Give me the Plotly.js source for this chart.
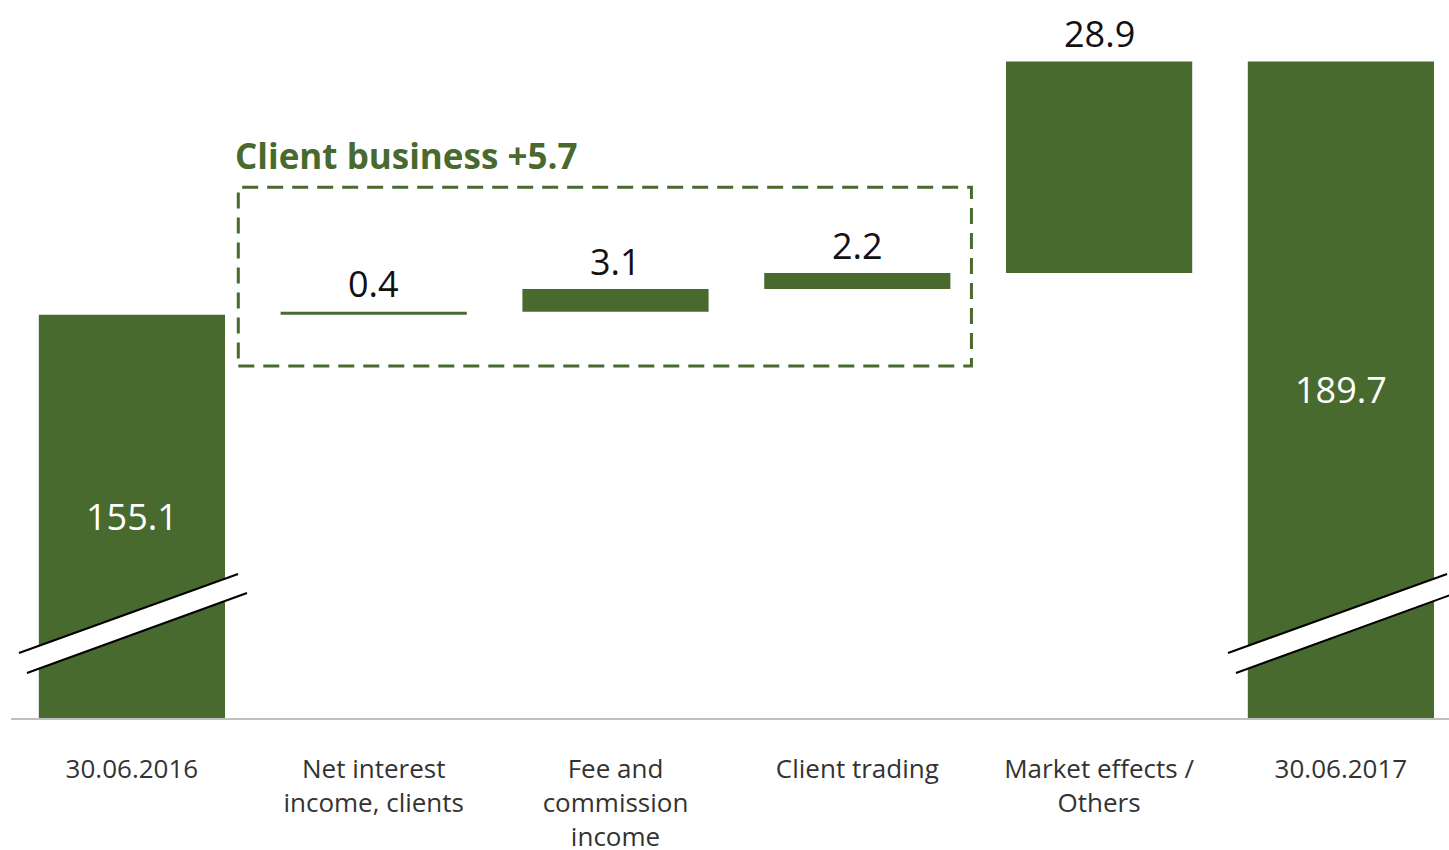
<!DOCTYPE html>
<html>
<head>
<meta charset="utf-8">
<script src="https://cdn.plot.ly/plotly-3.0.1.min.js"></script>
<style>html,body{margin:0;padding:0;background:#fff;}#chart{width:1449px;height:850px;}</style>
</head>
<body>
<div id="chart"></div>
<script>
const categories = ["30.06.2016", "Net interest<br>income, clients", "Fee and<br>commission<br>income", "Client trading", "Market effects /<br>Others", "30.06.2017"];
const values = [155.1, 0.4, 3.1, 2.2, 28.9, 189.7];
const measures = ["absolute", "relative", "relative", "relative", "relative", "total"];
const groupTitle = "Client business +5.7";

const GREEN = "#496a2e";
const AXIS_MIN = 100;
const FONT = "Open Sans, Noto Sans, sans-serif";

const x = categories.map((c, i) => i);

const trace = {
  type: "waterfall",
  x: x,
  y: values,
  measure: measures,
  textinfo: "none",
  cliponaxis: true,
  width: 0.77,
  connector: {visible: false},
  increasing: {marker: {color: GREEN}},
  decreasing: {marker: {color: GREEN}},
  totals: {marker: {color: GREEN}},
  hoverinfo: "skip"
};

const annotations = [];
let running = 0;
values.forEach((v, i) => {
  if (measures[i] === "relative") {
    running += v;
    annotations.push({
      x: i, y: running, xref: "x", yref: "y", yanchor: "middle", yshift: 28,
      text: v.toFixed(1), showarrow: false,
      font: {family: FONT, size: 36, color: "#111111"}
    });
  } else {
    running = v;
    // label centred on the visible part of a broken bar
    annotations.push({
      x: i, y: (AXIS_MIN + v) / 2, xref: "x", yref: "y",
      text: v.toFixed(1), showarrow: false,
      font: {family: FONT, size: 36, color: "#ffffff"}
    });
  }
});
annotations.push({
  x: 0.42, y: 176.9, xref: "x", yref: "y", xanchor: "left", yanchor: "middle",
  text: "<b>" + groupTitle + "</b>", showarrow: false,
  font: {family: FONT, size: 35, color: GREEN}
});

// axis break marks
const shapes = [];
[0, 5].forEach(c => {
  const p = [[c - 0.467, 108.88], [c + 0.439, 119.67], [c + 0.476, 117.08], [c - 0.434, 106.15]];
  shapes.push({
    type: "path", xref: "x", yref: "y",
    path: `M ${p[0][0]},${p[0][1]} L ${p[1][0]},${p[1][1]} L ${p[2][0]},${p[2][1]} L ${p[3][0]},${p[3][1]} Z`,
    fillcolor: "#ffffff", line: {width: 0}
  });
  shapes.push({type: "line", xref: "x", yref: "y", x0: p[0][0], y0: p[0][1], x1: p[1][0], y1: p[1][1], line: {color: "#000", width: 2}});
  shapes.push({type: "line", xref: "x", yref: "y", x0: p[3][0], y0: p[3][1], x1: p[2][0], y1: p[2][1], line: {color: "#000", width: 2}});
});
// dashed group box
shapes.push({
  type: "rect", xref: "x", yref: "y", x0: 0.44, x1: 3.472, y0: 148.1, y1: 172.5,
  line: {color: GREEN, width: 3, dash: "16px,9px"}, fillcolor: "rgba(0,0,0,0)"
});

const layout = {
  width: 1449, height: 850,
  margin: {l: 11, r: 0, t: 0, b: 132},
  paper_bgcolor: "#fff", plot_bgcolor: "#fff",
  showlegend: false,
  xaxis: {
    type: "linear",
    range: [-0.5, 5.447],
    tickmode: "array", tickvals: x, ticktext: categories,
    showgrid: false, zeroline: false,
    showline: true, linecolor: "#bfbfbf", linewidth: 2,
    ticks: "", ticklabelstandoff: 27,
    tickfont: {family: FONT, size: 26, color: "#333333"}
  },
  yaxis: {
    range: [AXIS_MIN, 198.1],
    visible: false, showgrid: false, zeroline: false, fixedrange: true
  },
  annotations: annotations,
  shapes: shapes
};

Plotly.newPlot("chart", [trace], layout, {displayModeBar: false, staticPlot: true});
</script>
</body>
</html>
